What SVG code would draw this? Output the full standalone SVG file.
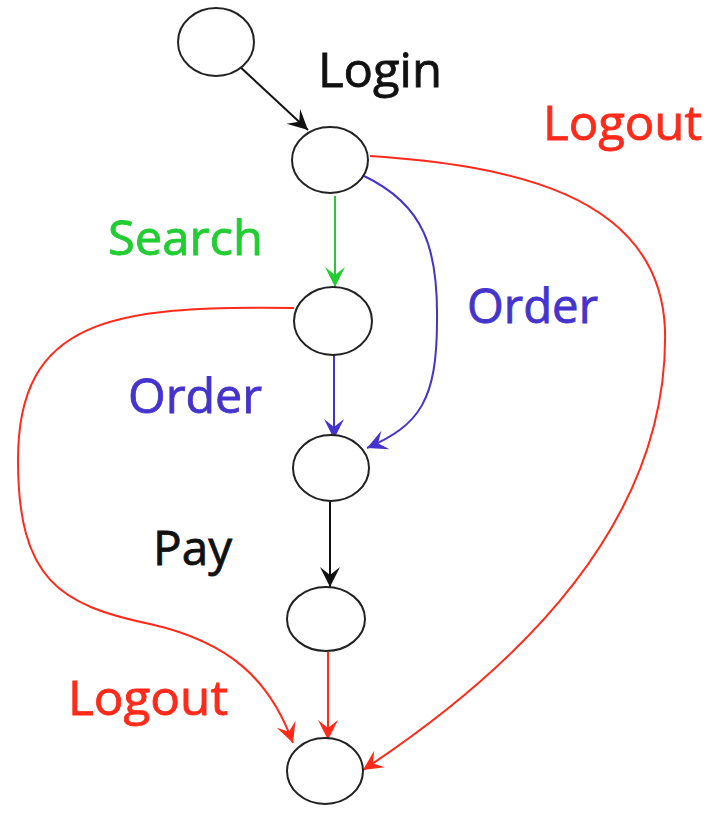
<svg xmlns="http://www.w3.org/2000/svg" width="708" height="820" viewBox="0 0 708 820">
<style>
.node{fill:#fff;stroke:#222;stroke-width:2}
.e{fill:none;stroke-width:2}
.lbl{font-family:"Open Sans","Liberation Sans",sans-serif;font-size:48px;stroke-width:0.8px}
</style>
<defs>
<marker id="aK" markerUnits="userSpaceOnUse" markerWidth="20" markerHeight="22" viewBox="0 0 20 22" refX="20" refY="11" orient="auto"><path d="M0,1 L20,11 L0,21 L8,11 z" fill="#111"/></marker>
<marker id="aG" markerUnits="userSpaceOnUse" markerWidth="20" markerHeight="22" viewBox="0 0 20 22" refX="20" refY="11" orient="auto"><path d="M0,1 L20,11 L0,21 L8,11 z" fill="#22cc33"/></marker>
<marker id="aB" markerUnits="userSpaceOnUse" markerWidth="20" markerHeight="22" viewBox="0 0 20 22" refX="20" refY="11" orient="auto"><path d="M0,1 L20,11 L0,21 L8,11 z" fill="#4433cc"/></marker>
<marker id="aR" markerUnits="userSpaceOnUse" markerWidth="20" markerHeight="22" viewBox="0 0 20 22" refX="20" refY="11" orient="auto"><path d="M0,1 L20,11 L0,21 L8,11 z" fill="#ff2a1a"/></marker>
</defs>
<g id="connectors">
<path class="e" stroke="#111" d="M238,65 L308,130" marker-end="url(#aK)"/>
<path class="e" stroke="#22cc33" d="M335,196 L335,287" marker-end="url(#aG)"/>
<path class="e" stroke="#4433cc" d="M334,353 L334,439" marker-end="url(#aB)"/>
<path class="e" stroke="#4433cc" d="M364,176 C425,205 438,250 437,320 C437,400 420,425 367,448" marker-end="url(#aB)"/>
<path class="e" stroke="#111" d="M330,501 L330,587" marker-end="url(#aK)"/>
<path class="e" stroke="#ff2a1a" d="M328,652 L328,740" marker-end="url(#aR)"/>
<path class="e" stroke="#ff2a1a" d="M370,156 C500,165 660,190 665,330 C668,470 590,620 363,770" marker-end="url(#aR)"/>
<path class="e" stroke="#ff2a1a" d="M294,308 C110,305 18,320 18,460 C18,580 60,605 150,624 C230,642 270,680 293,743" marker-end="url(#aR)"/>
</g>
<g id="n0"><ellipse class="node" cx="216" cy="42" rx="38" ry="34"/></g>
<g id="n1"><ellipse class="node" cx="330" cy="160" rx="38" ry="33"/></g>
<g id="n2"><ellipse class="node" cx="333" cy="321" rx="39" ry="34"/></g>
<g id="n3"><ellipse class="node" cx="331" cy="468" rx="38" ry="33"/></g>
<g id="n4"><ellipse class="node" cx="326" cy="619" rx="39" ry="32"/></g>
<g id="n5"><ellipse class="node" cx="325" cy="771" rx="38" ry="33"/></g>
<g id="labels">
<text class="lbl" x="318" y="87" fill="#111" stroke="#111" textLength="124" lengthAdjust="spacingAndGlyphs">Login</text>
<text class="lbl" x="543" y="140" fill="#ff2a1a" stroke="#ff2a1a" textLength="159" lengthAdjust="spacingAndGlyphs">Logout</text>
<text class="lbl" x="108" y="255" fill="#22cc33" stroke="#22cc33" textLength="155" lengthAdjust="spacingAndGlyphs">Search</text>
<text class="lbl" x="467" y="323" fill="#4433cc" stroke="#4433cc" textLength="131" lengthAdjust="spacingAndGlyphs">Order</text>
<text class="lbl" x="128" y="413" fill="#4433cc" stroke="#4433cc" textLength="134" lengthAdjust="spacingAndGlyphs">Order</text>
<text class="lbl" x="153" y="565" fill="#111" stroke="#111" textLength="79" lengthAdjust="spacingAndGlyphs">Pay</text>
<text class="lbl" x="68" y="715" fill="#ff2a1a" stroke="#ff2a1a" textLength="160" lengthAdjust="spacingAndGlyphs">Logout</text>
</g>
</svg>
